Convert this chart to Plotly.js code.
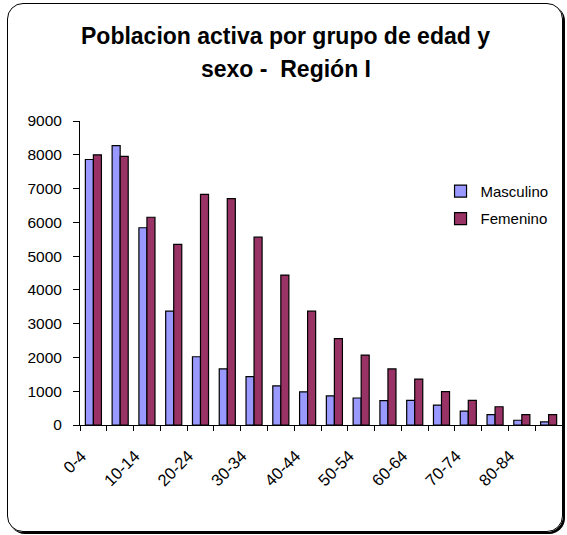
<!DOCTYPE html>
<html>
<head>
<meta charset="utf-8">
<script src="https://cdn.plot.ly/plotly-3.0.1.min.js"></script>
<style>
  html, body { margin: 0; padding: 0; background: #fff; }
  #wrap { position: relative; width: 567px; height: 535px; overflow: hidden; }
  #chart { position: absolute; left: 0; top: 0; width: 567px; height: 535px; }
  #frame {
    position: absolute; left: 7px; top: 3px; width: 554px; height: 527px;
    border: 1px solid #000; border-radius: 16px;
    box-shadow: 2px 2px 0 #000; pointer-events: none;
  }
</style>
</head>
<body>
<div id="wrap">
  <div id="chart"></div>
  <div id="frame"></div>
</div>
<script>
const categories = ['0-4','5-9','10-14','15-19','20-24','25-29','30-34','35-39','40-44','45-49','50-54','55-59','60-64','65-69','70-74','75-79','80-84','85+'];
const masculino = [7860, 8270, 5840, 3370, 2020, 1660, 1430, 1160, 980, 860, 800, 720, 730, 590, 410, 310, 140, 90];
const femenino  = [8000, 7950, 6150, 5350, 6830, 6700, 5560, 4440, 3370, 2560, 2070, 1660, 1360, 990, 730, 540, 310, 310];
const yTicks = [0, 1000, 2000, 3000, 4000, 5000, 6000, 7000, 8000, 9000];
const titleLines = ['Poblacion activa por grupo de edad y', 'sexo -  Región I'];

const font = 'Arial, "Liberation Sans", sans-serif';

// category positions on a linear axis (index of each category)
const xPos = categories.map((c, i) => i);
const labelIdx = xPos.filter(i => i % 2 === 0);
const labelShift = 0.45; // labels sit slightly left of the group centre, as in the original
const tickVals = labelIdx.map(i => i - labelShift);
const tickText = labelIdx.map(i => categories[i]);

const traces = [
  {
    type: 'bar', name: 'Masculino', x: xPos, y: masculino,
    legendgroup: 'm', text: categories, hoverinfo: 'text+y',
    textposition: 'none',
    marker: { color: '#9999FF', line: { color: '#000', width: 1.2 } }
  },
  {
    type: 'bar', name: 'Femenino', x: xPos, y: femenino,
    legendgroup: 'f', text: categories, hoverinfo: 'text+y',
    textposition: 'none',
    marker: { color: '#993366', line: { color: '#000', width: 1.2 } }
  }
];

const layout = {
  width: 567, height: 535,
  paper_bgcolor: 'rgba(0,0,0,0)', plot_bgcolor: 'rgba(0,0,0,0)',
  margin: { l: 80, r: 5, t: 121, b: 110 },
  font: { family: font, color: '#000', size: 15 },
  annotations: [
    {
      text: '<b>' + titleLines[0] + '</b>', showarrow: false,
      xref: 'paper', yref: 'paper', x: 0.427, y: 1.278,
      xanchor: 'center', yanchor: 'middle',
      font: { family: font, size: 23, color: '#000' }
    },
    {
      text: '<b>' + titleLines[1] + '</b>', showarrow: false,
      xref: 'paper', yref: 'paper', x: 0.427, y: 1.172,
      xanchor: 'center', yanchor: 'middle',
      font: { family: font, size: 23, color: '#000' }
    }
  ],
  barmode: 'group', bargap: 0.4, bargroupgap: 0,
  showlegend: true,
  legend: {
    x: 0.748, y: 0.823, xanchor: 'left', yanchor: 'top',
    bgcolor: 'rgba(0,0,0,0)', borderwidth: 0,
    font: { family: font, size: 15, color: '#000' },
    traceorder: 'grouped', tracegroupgap: 5,
    itemwidth: 30
  },
  xaxis: {
    type: 'linear', range: [-0.5, categories.length - 0.5],
    tickmode: 'array', tickvals: tickVals, ticktext: tickText,
    ticks: '', tickangle: -45, ticklabelstandoff: 14,
    tickfont: { family: font, size: 16.5, color: '#000' },
    minor: { tickmode: 'linear', tick0: -0.5, dtick: 1, ticks: 'outside', ticklen: 5, tickcolor: '#000', showgrid: false },
    showline: true, linecolor: '#000', linewidth: 1,
    showgrid: false, zeroline: false, fixedrange: true
  },
  yaxis: {
    range: [0, 9000],
    tickmode: 'array', tickvals: yTicks,
    ticks: 'outside', ticklen: 6, tickcolor: '#000',
    ticklabelstandoff: 8,
    tickfont: { family: font, size: 15.5, color: '#000' },
    showline: true, linecolor: '#000', linewidth: 1,
    showgrid: false, zeroline: false, fixedrange: true
  }
};

Plotly.newPlot('chart', traces, layout, { displayModeBar: false, staticPlot: true });
</script>
</body>
</html>
